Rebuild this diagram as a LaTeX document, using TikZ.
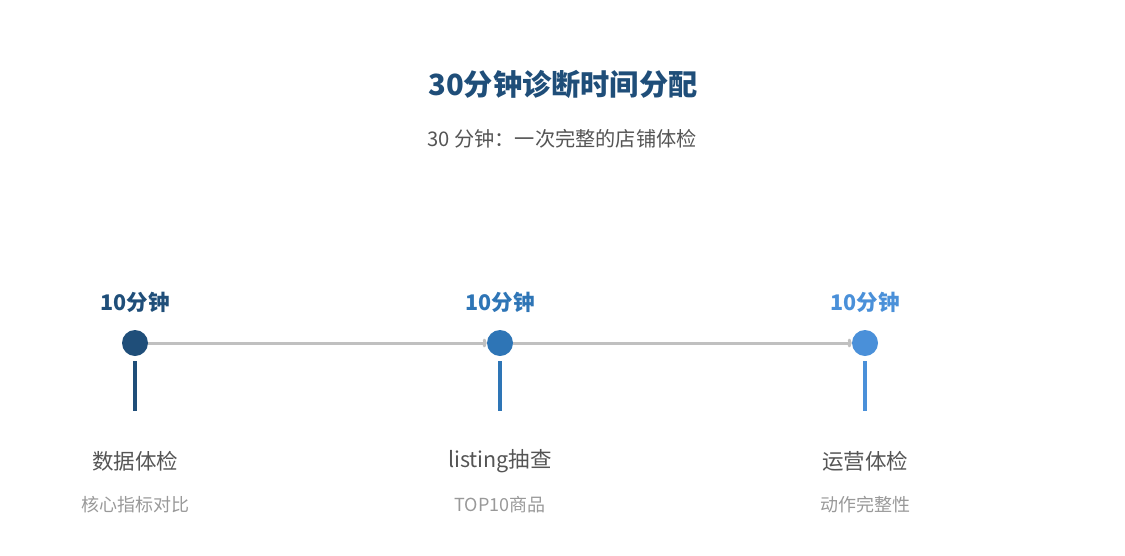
\documentclass[tikz,border=0pt]{standalone}
\usepackage{fontspec}
\setmainfont{Noto Sans CJK SC}
\usetikzlibrary{arrows.meta}
\definecolor{navy}{HTML}{1F4E79}
\definecolor{midblue}{HTML}{2E75B6}
\definecolor{lightblue}{HTML}{4A90D9}
\definecolor{textgray}{HTML}{555555}
\definecolor{subgray}{HTML}{999999}
\definecolor{linegray}{HTML}{C0C0C0}
\begin{document}
\begin{tikzpicture}[x=1pt, y=-1pt,
    dot/.style={circle, inner sep=0pt, minimum size=26pt},
    stem/.style={line width=3.5pt},
    link/.style={draw=linegray, line width=3pt, -{To[length=4pt,width=9pt]}},
    timelbl/.style={font=\fontsize{21.5}{24}\selectfont\bfseries},
    namelbl/.style={font=\fontsize{21.5}{25}\selectfont, text=textgray},
    sublbl/.style={font=\fontsize{18}{21}\selectfont, text=subgray}]
    \useasboundingbox (0,0) rectangle (1125,555);
    \node[font=\fontsize{29.2}{33}\selectfont\bfseries, text=navy] (title) at (563,84) {30分钟诊断时间分配};
    \node[font=\fontsize{20.2}{24}\selectfont, text=textgray] (subtitle) at (562,139) {30 分钟：一次完整的店铺体检};

    \node[dot, fill=navy] (A) at (135,343) {};
    \node[dot, fill=midblue] (B) at (500,343) {};
    \node[dot, fill=lightblue] (C) at (865,343) {};

    \draw[link] (A) -- (B);
    \draw[link] (B) -- (C);

    \draw[stem, navy] (135,361) -- (135,411);
    \draw[stem, midblue] (500,361) -- (500,411);
    \draw[stem, lightblue] (865,361) -- (865,411);

    \node[timelbl, text=navy] (tA) at (135,302) {10分钟};
    \node[timelbl, text=midblue] (tB) at (500,302) {10分钟};
    \node[timelbl, text=lightblue] (tC) at (865,302) {10分钟};

    \node[namelbl] (nA) at (135,461) {数据体检};
    \node[namelbl] (nB) at (500,461) {listing抽查};
    \node[namelbl] (nC) at (865,461) {运营体检};

    \node[sublbl] (sA) at (135,505) {核心指标对比};
    \node[sublbl] (sB) at (500,505) {TOP10商品};
    \node[sublbl] (sC) at (865,505) {动作完整性};
\end{tikzpicture}
\end{document}
